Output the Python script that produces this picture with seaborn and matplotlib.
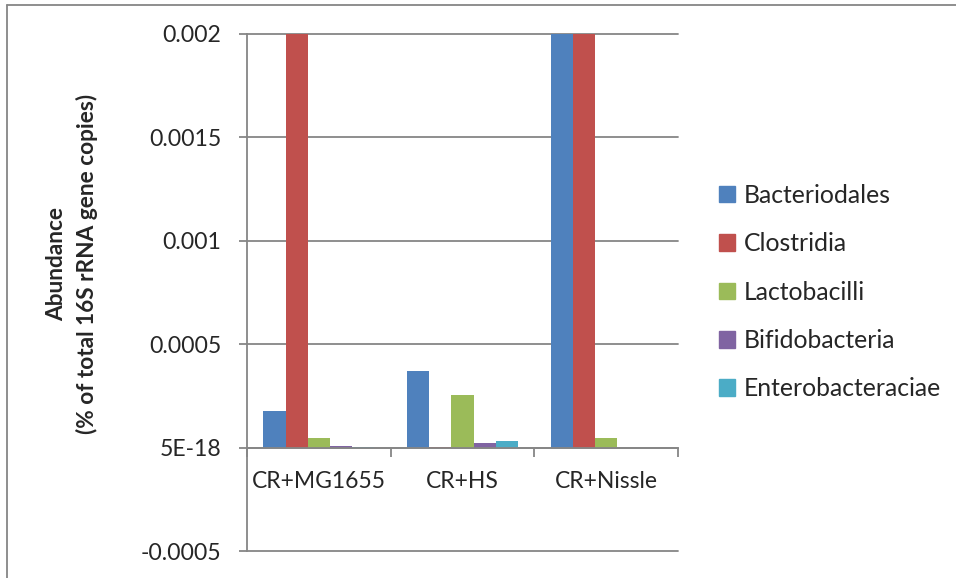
import matplotlib
matplotlib.use("Agg")
import matplotlib.pyplot as plt
from matplotlib.lines import Line2D
import seaborn as sns
import pandas as pd

# Relative abundance of gut bacterial groups per treatment
groups = ["CR+MG1655", "CR+HS", "CR+Nissle"]
taxa = ["Bacteriodales", "Clostridia", "Lactobacilli", "Bifidobacteria", "Enterobacteraciae"]
bacteriodales = [0.000175, 0.00037, 0.0032]
clostridia = [0.0045, 0.000002, 0.0041]
lactobacilli = [0.000045, 0.000253, 0.000045]
bifidobacteria = [0.000006, 0.00002, 0.0]
enterobacteraciae = [0.000004, 0.00003, 0.0]

y_ticks = [-0.0005, 0.0, 0.0005, 0.001, 0.0015, 0.002]
y_tick_labels = ["-0.0005", "5E-18", "0.0005", "0.001", "0.0015", "0.002"]

palette = ["#4F81BD", "#C0504D", "#9BBB59", "#8064A2", "#4BACC6"]

series = [bacteriodales, clostridia, lactobacilli, bifidobacteria, enterobacteraciae]
df = pd.DataFrame(
    [(g, t, v) for t, vals in zip(taxa, series) for g, v in zip(groups, vals)],
    columns=["group", "taxon", "value"],
)

sns.set_theme(style="white")
plt.rcParams["font.family"] = ["Lato", "DejaVu Sans"]

axis_gray = "#868686"
tick_fs = 16.6
cat_fs = 16.5
legend_fs = 17.8
label_fs = 16.3

fig = plt.figure(figsize=(9.56, 5.78), dpi=100)
ax = fig.add_axes([247 / 956, 1 - 551 / 578, (678 - 247) / 956, (551 - 34) / 578])

sns.barplot(
    data=df, x="group", y="value", hue="taxon", order=groups, hue_order=taxa,
    palette=palette, width=0.772, gap=0, saturation=1, linewidth=0,
    legend=False, ax=ax,
)

ax.set_xlim(-0.5, 2.5)
ax.set_ylim(-0.0005, 0.002)

# horizontal gridlines
for yv in y_ticks:
    ax.axhline(yv, color=axis_gray, lw=1.3, zorder=0.5, clip_on=False)

ax.set_yticks(y_ticks, y_tick_labels)
ax.tick_params(axis="y", direction="out", length=6, width=1.3, color=axis_gray,
               labelsize=tick_fs, pad=12.7, left=True)

# category axis sits at zero, ticks at group boundaries
ax.set_xticks([-0.5, 0.5, 1.5, 2.5], ["", "", "", ""])
ax.set_xticks([0, 1, 2], groups, minor=True)
ax.tick_params(axis="x", which="major", direction="out", length=6.5, width=1.3,
               color=axis_gray, bottom=True)
ax.tick_params(axis="x", which="minor", length=0, labelsize=cat_fs, pad=17, bottom=True)
ax.set_xlabel("")
ax.set_ylabel("")

for s in ["top", "right"]:
    ax.spines[s].set_visible(False)
ax.spines["left"].set_color(axis_gray)
ax.spines["left"].set_linewidth(1.3)
ax.spines["bottom"].set_position(("data", 0))
ax.spines["bottom"].set_color(axis_gray)
ax.spines["bottom"].set_linewidth(1.3)
ax.spines["bottom"].set_zorder(3)

fig.text(72 / 956, 1 - 264 / 578,
         "Abundance\n(% of total 16S rRNA gene copies)",
         rotation=90, ha="center", va="center", multialignment="center",
         fontsize=label_fs, fontweight="bold", linespacing=1.5)

handles = [plt.Rectangle((0, 0), 1, 1, color=c) for c in palette]
fig.legend(handles, taxa, loc="center left", bbox_to_anchor=(719 / 956, 1 - 292 / 578),
           frameon=False, fontsize=legend_fs, handlelength=0.65, handleheight=0.65,
           handletextpad=0.35, labelspacing=1.03, borderpad=0, borderaxespad=0)

# chart area border
fig.add_artist(Line2D([7 / 956, 1], [1 - 5 / 578, 1 - 5 / 578], transform=fig.transFigure,
                      color=axis_gray, lw=1.3))
fig.add_artist(Line2D([7 / 956, 7 / 956], [0, 1 - 5 / 578], transform=fig.transFigure,
                      color=axis_gray, lw=1.3))

fig.savefig("out.png", dpi=100, facecolor="white")
